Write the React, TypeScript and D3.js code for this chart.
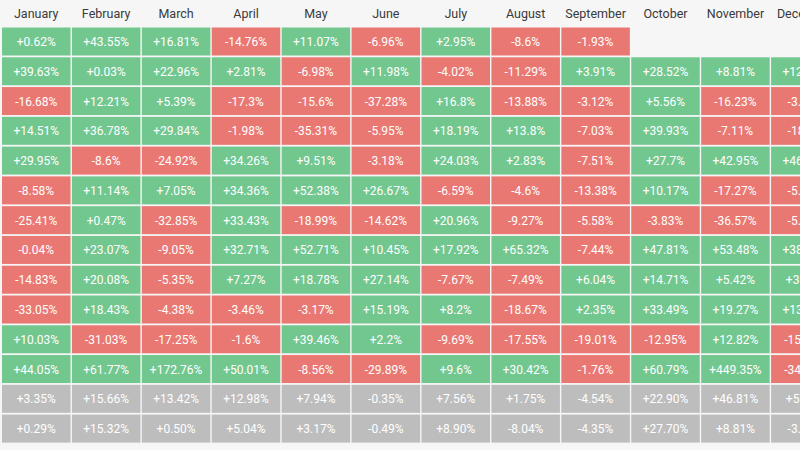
import React from "react";
import * as d3 from "d3";

const months = ["January","February","March","April","May","June","July","August","September","October","November","December"];
const rowLabels = ["2024","2023","2022","2021","2020","2019","2018","2017","2016","2015","2014","2013","Average","Median"];

const r2024 = [0.62, 43.55, 16.81, -14.76, 11.07, -6.96, 2.95, -8.6, -1.93, null, null, null];
const r2023 = [39.63, 0.03, 22.96, 2.81, -6.98, 11.98, -4.02, -11.29, 3.91, 28.52, 8.81, 12.18];
const r2022 = [-16.68, 12.21, 5.39, -17.3, -15.6, -37.28, 16.8, -13.88, -3.12, 5.56, -16.23, -3.59];
const r2021 = [14.51, 36.78, 29.84, -1.98, -35.31, -5.95, 18.19, 13.8, -7.03, 39.93, -7.11, -18.9];
const r2020 = [29.95, -8.6, -24.92, 34.26, 9.51, -3.18, 24.03, 2.83, -7.51, 27.7, 42.95, 46.92];
const r2019 = [-8.58, 11.14, 7.05, 34.36, 52.38, 26.67, -6.59, -4.6, -13.38, 10.17, -17.27, -5.15];
const r2018 = [-25.41, 0.47, -32.85, 33.43, -18.99, -14.62, 20.96, -9.27, -5.58, -3.83, -36.57, -5.85];
const r2017 = [-0.04, 23.07, -9.05, 32.71, 52.71, 10.45, 17.92, 65.32, -7.44, 47.81, 53.48, 38.89];
const r2016 = [-14.83, 20.08, -5.35, 7.27, 18.78, 27.14, -7.67, -7.49, 6.04, 14.71, 5.42, 30.8];
const r2015 = [-33.05, 18.43, -4.38, -3.46, -3.17, 15.19, 8.2, -18.67, 2.35, 33.49, 19.27, 13.83];
const r2014 = [10.03, -31.03, -17.25, -1.6, 39.46, 2.2, -9.69, -17.55, -19.01, -12.95, 12.82, -15.11];
const r2013 = [44.05, 61.77, 172.76, 50.01, -8.56, -29.89, 9.6, 30.42, -1.76, 60.79, 449.35, -34.81];
const average = [3.35, 15.66, 13.42, 12.98, 7.94, -0.35, 7.56, 1.75, -4.54, 22.9, 46.81, 5.44];
const median = [0.29, 15.32, 0.5, 5.04, 3.17, -0.49, 8.9, -8.04, -4.35, 27.7, 8.81, -3.59];

const yearRows = [r2024, r2023, r2022, r2021, r2020, r2019, r2018, r2017, r2016, r2015, r2014, r2013];
const allRows = [...yearRows, average, median];

const W = 800;
const H = 450;
const GREEN = "#72c78f";
const RED = "#ea7872";
const GRAY = "#bdbdbd";
const FONT = "Roboto, 'Noto Sans', sans-serif";

function fmt(v: number, fixed: boolean) {
  const s = fixed ? v.toFixed(2) : String(v);
  return (v >= 0 ? "+" : "") + s + "%";
}

export default function App() {
  const x = d3.scaleBand<string>().domain(months).range([2, 2 + 12 * 69.8]).paddingInner(0.02).paddingOuter(0);
  const y = d3.scaleBand<string>().domain(rowLabels).range([27.5, 27.5 + 14 * 29.65]).paddingInner(0.06).paddingOuter(0);

  return (
    <div style={{ position: "fixed", left: 0, top: 0, width: W, height: H, overflow: "hidden", background: "#f6f6f6" }}>
      <svg width={W} height={H} style={{ display: "block" }}>
        <rect x={0} y={0} width={W} height={H} fill="#f6f6f6" />
        {months.map((m) => (
          <text key={m} x={x(m)! + x.bandwidth() / 2} y={13} textAnchor="middle" dominantBaseline="central"
            fontFamily={FONT} fontSize={12.5} fill="#3a3a3a">{m}</text>
        ))}
        {allRows.map((row, ri) => {
          const label = rowLabels[ri];
          const summary = ri >= yearRows.length;
          return row.map((v, ci) => {
            if (v === null || v === undefined) return null;
            const m = months[ci];
            const fill = summary ? GRAY : v >= 0 ? GREEN : RED;
            return (
              <g key={label + m}>
                <rect x={x(m)} y={y(label)} width={x.bandwidth()} height={y.bandwidth()} fill={fill} />
                <text x={x(m)! + x.bandwidth() / 2} y={y(label)! + y.bandwidth() / 2 + 0.5} textAnchor="middle"
                  dominantBaseline="central" fontFamily={FONT} fontSize={12} fill="#ffffff">
                  {fmt(v, summary)}
                </text>
              </g>
            );
          });
        })}
      </svg>
    </div>
  );
}
